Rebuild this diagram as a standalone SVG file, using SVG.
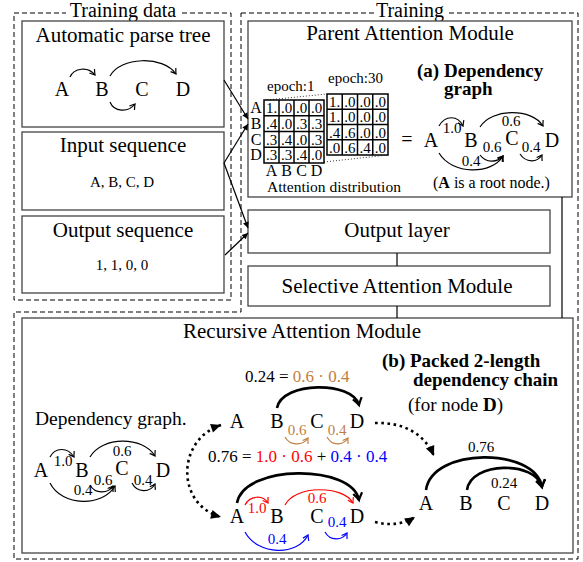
<svg xmlns="http://www.w3.org/2000/svg" width="583" height="562" viewBox="0 0 583 562">
<style>
text{font-family:"Liberation Serif","Times New Roman",serif;fill:#000}
.t21{font-size:21px}
.t20{font-size:20px}
.t16{font-size:16px}
.t15{font-size:15px}
.t17{font-size:17px}
.b19{font-size:19px;font-weight:bold}
.c{text-anchor:middle}
.box{fill:#fff;stroke:#444;stroke-width:1.3}
.dash{fill:none;stroke:#000;stroke-width:1;stroke-dasharray:5 3}
.arc{fill:none;stroke:#000;stroke-width:1.2}
.thick{fill:none;stroke:#000;stroke-width:2.6}
.red{fill:none;stroke:#f00;stroke-width:1.2}
.blue{fill:none;stroke:#00f;stroke-width:1.2}
.brown{fill:none;stroke:#bf8040;stroke-width:1.2}
.dot{fill:none;stroke:#000;stroke-width:2.6;stroke-dasharray:2.6 3.6}
.grid{fill:none;stroke:#000;stroke-width:1.5}
.ln{stroke:#000;stroke-width:1.2;fill:none}
.fr{fill:#f00}.fb{fill:#00f}.fbr{fill:#bf8040}
</style>
<defs>
<marker id="ak" viewBox="-8 -5 10 10" refX="0" refY="0" markerWidth="10" markerHeight="10" markerUnits="userSpaceOnUse" orient="auto" overflow="visible"><path d="M-5,-3.2 Q-1.5,-0.8 0,0 Q-1.5,0.8 -5,3.2" fill="none" stroke="#000" stroke-width="1.2"/></marker>
<marker id="ar" viewBox="-8 -5 10 10" refX="0" refY="0" markerWidth="10" markerHeight="10" markerUnits="userSpaceOnUse" orient="auto" overflow="visible"><path d="M-5,-3.2 Q-1.5,-0.8 0,0 Q-1.5,0.8 -5,3.2" fill="none" stroke="#f00" stroke-width="1.2"/></marker>
<marker id="ab" viewBox="-8 -5 10 10" refX="0" refY="0" markerWidth="10" markerHeight="10" markerUnits="userSpaceOnUse" orient="auto" overflow="visible"><path d="M-5,-3.2 Q-1.5,-0.8 0,0 Q-1.5,0.8 -5,3.2" fill="none" stroke="#00f" stroke-width="1.2"/></marker>
<marker id="abr" viewBox="-8 -5 10 10" refX="0" refY="0" markerWidth="10" markerHeight="10" markerUnits="userSpaceOnUse" orient="auto" overflow="visible"><path d="M-5,-3.2 Q-1.5,-0.8 0,0 Q-1.5,0.8 -5,3.2" fill="none" stroke="#bf8040" stroke-width="1.2"/></marker>
<marker id="at" viewBox="-10 -6 12 12" refX="0" refY="0" markerWidth="12" markerHeight="12" markerUnits="userSpaceOnUse" orient="auto" overflow="visible"><path d="M-7,-4.5 Q-2,-1 0,0 Q-2,1 -7,4.5" fill="none" stroke="#000" stroke-width="2.2"/></marker>
<marker id="af" viewBox="-10 -6 12 12" refX="0" refY="0" markerWidth="12" markerHeight="12" markerUnits="userSpaceOnUse" orient="auto-start-reverse" overflow="visible"><path d="M-10,-4.5 L0,0 L-10,4.5 Z" fill="#000"/></marker>
<marker id="as" viewBox="-8 -5 10 10" refX="0" refY="0" markerWidth="10" markerHeight="10" markerUnits="userSpaceOnUse" orient="auto" overflow="visible"><path d="M-6,-3 L0,0 L-6,3 Z" fill="#000"/></marker>
</defs>
<rect width="583" height="562" fill="#fff"/>

<g id="training-data-frame">
<rect class="dash" x="14" y="13" width="217" height="287"/>
<rect x="66" y="0" width="116" height="19" fill="#fff"/>
<text class="c" style="font-size:20px" x="123" y="17">Training data</text>
</g>

<g id="training-frame">
<path class="dash" d="M241,13 L578,13 L578,559 L14,559 L14,312 L241,312 Z"/>
<rect x="374" y="0" width="72" height="19" fill="#fff"/>
<text class="c" style="font-size:20px" x="410" y="17">Training</text>
</g>

<g id="parse-tree">
<rect class="box" x="22" y="21" width="202" height="106"/>
<text class="t21 c" x="123" y="42">Automatic parse tree</text>
<text class="t20 c" x="62" y="96">A</text>
<text class="t20 c" x="102" y="96">B</text>
<text class="t20 c" x="142" y="96">C</text>
<text class="t20 c" x="183" y="96">D</text>
<path class="arc" marker-end="url(#ak)" d="M70,77 C74,68 88,66 95,75"/>
<path class="arc" marker-end="url(#ak)" d="M110,76 C120,57 163,55 176,74"/>
<path class="arc" marker-end="url(#ak)" d="M110,102 C114,112 128,113 135,104"/>
</g>

<g id="input-sequence">
<rect class="box" x="22" y="132" width="202" height="78"/>
<text class="t21 c" x="123" y="152">Input sequence</text>
<text class="t15 c" x="122" y="187">A, B, C, D</text>
</g>

<g id="output-sequence">
<rect class="box" x="22" y="216" width="202" height="77"/>
<text class="t21 c" x="123" y="237">Output sequence</text>
<text class="t15 c" x="122" y="270">1, 1, 0, 0</text>
</g>

<g id="parent-attention">
<rect class="box" x="248" y="21" width="324" height="176"/>
<text class="t21 c" x="410" y="40">Parent Attention Module</text>
<text class="t15" x="267" y="91">epoch:1</text>
<text class="t15" x="328" y="83">epoch:30</text>
<path d="M267,100 L327,94 M324,162 L388,155" stroke="#000" stroke-width="0.8" stroke-dasharray="1 2" fill="none"/>
<g id="matrix-epoch1">
<rect x="264" y="100" width="60" height="63" fill="#fff"/>
<path class="grid" d="M264,100 h60 v63 h-60 Z M279,100 v63 M294,100 v63 M309,100 v63 M264,115.75 h60 M264,131.5 h60 M264,147.25 h60"/>
<text class="t15 c" x="271.5" y="113">1.</text><text class="t15 c" x="286.5" y="113">.0</text><text class="t15 c" x="301.5" y="113">.0</text><text class="t15 c" x="316.5" y="113">.0</text>
<text class="t15 c" x="271.5" y="128.7">.4</text><text class="t15 c" x="286.5" y="128.7">.0</text><text class="t15 c" x="301.5" y="128.7">.3</text><text class="t15 c" x="316.5" y="128.7">.3</text>
<text class="t15 c" x="271.5" y="144.5">.3</text><text class="t15 c" x="286.5" y="144.5">.4</text><text class="t15 c" x="301.5" y="144.5">.0</text><text class="t15 c" x="316.5" y="144.5">.3</text>
<text class="t15 c" x="271.5" y="160">.3</text><text class="t15 c" x="286.5" y="160">.3</text><text class="t15 c" x="301.5" y="160">.4</text><text class="t15 c" x="316.5" y="160">.0</text>
<text class="t16 c" x="256" y="113">A</text>
<text class="t16 c" x="256" y="128.7">B</text>
<text class="t16 c" x="256" y="144.5">C</text>
<text class="t16 c" x="256" y="160">D</text>
<text class="t16 c" x="271.5" y="176">A</text>
<text class="t16 c" x="286.5" y="176">B</text>
<text class="t16 c" x="301.5" y="176">C</text>
<text class="t16 c" x="316.5" y="176">D</text>
</g>
<g id="matrix-epoch30">
<rect x="327" y="94" width="61" height="61" fill="#fff"/>
<path class="grid" d="M327,94 h61 v61 h-61 Z M342.25,94 v61 M357.5,94 v61 M372.75,94 v61 M327,109.25 h61 M327,124.5 h61 M327,139.75 h61"/>
<text class="t15 c" x="334.6" y="107">1.</text><text class="t15 c" x="349.9" y="107">.0</text><text class="t15 c" x="365.1" y="107">.0</text><text class="t15 c" x="380.4" y="107">.0</text>
<text class="t15 c" x="334.6" y="122.2">1.</text><text class="t15 c" x="349.9" y="122.2">.0</text><text class="t15 c" x="365.1" y="122.2">.0</text><text class="t15 c" x="380.4" y="122.2">.0</text>
<text class="t15 c" x="334.6" y="137.5">.4</text><text class="t15 c" x="349.9" y="137.5">.6</text><text class="t15 c" x="365.1" y="137.5">.0</text><text class="t15 c" x="380.4" y="137.5">.0</text>
<text class="t15 c" x="334.6" y="152.7">.0</text><text class="t15 c" x="349.9" y="152.7">.6</text><text class="t15 c" x="365.1" y="152.7">.4</text><text class="t15 c" x="380.4" y="152.7">.0</text>
</g>
<text style="font-size:15.5px" x="267" y="192">Attention distribution</text>
<text class="t20 c" x="407" y="146">=</text>
<text class="b19" x="417" y="77">(a) Dependency</text>
<text class="b19" x="444" y="95">graph</text>
<g id="graph-a">
<text class="t20 c" x="431" y="147">A</text>
<text class="t20 c" x="471" y="147">B</text>
<text class="t20 c" x="512" y="145">C</text>
<text class="t20 c" x="552" y="147">D</text>
<path class="arc" marker-end="url(#ak)" d="M439,126 C445,115 458,115 463,126"/>
<path class="arc" marker-end="url(#ak)" d="M480,127 C492,108 532,108 543,126"/>
<path class="arc" marker-end="url(#ak)" d="M439,153 C452,175 492,175 503,156"/>
<path class="arc" marker-end="url(#ak)" d="M480,155 C486,163 497,163 503,156"/>
<path class="arc" marker-end="url(#ak)" d="M520,154 C526,163 537,163 542,155"/>
<text class="t15 c" x="452" y="133">1.0</text>
<text class="t15 c" x="511" y="126">0.6</text>
<text class="t15 c" x="471" y="166">0.4</text>
<text class="t15 c" x="492" y="152">0.6</text>
<text class="t15 c" x="531" y="152">0.4</text>
</g>
<text class="t16" x="433" y="188">(<tspan font-weight="bold">A</tspan> is a root node.)</text>
</g>

<g id="output-layer">
<rect class="box" x="248" y="210" width="302" height="43"/>
<text class="t21 c" x="397" y="237">Output layer</text>
</g>

<g id="selective-attention">
<rect class="box" x="248" y="266" width="302" height="40"/>
<text class="t21 c" x="397" y="293">Selective Attention Module</text>
</g>

<g id="recursive-attention">
<rect class="box" x="22" y="318" width="551" height="235"/>
<text class="t21 c" x="302" y="338">Recursive Attention Module</text>
<text class="b19" x="382" y="367">(b) Packed 2-length</text>
<text class="b19" x="413" y="386">dependency chain</text>
<text style="font-size:19px" x="408" y="411">(for node <tspan font-weight="bold">D</tspan>)</text>
<text x="35" y="425" style="font-size:19.5px">Dependency graph.</text>
<g id="graph-left">
<text class="t20 c" x="41" y="477">A</text>
<text class="t20 c" x="82" y="477">B</text>
<text class="t20 c" x="122" y="475">C</text>
<text class="t20 c" x="163" y="477">D</text>
<path class="arc" marker-end="url(#ak)" d="M50,457 C55,447 68,447 74,457"/>
<path class="arc" marker-end="url(#ak)" d="M90,457 C102,436 143,436 155,456"/>
<path class="arc" marker-end="url(#ak)" d="M50,483 C62,507 103,507 115,486"/>
<path class="arc" marker-end="url(#ak)" d="M90,485 C95,494 108,494 113,486"/>
<path class="arc" marker-end="url(#ak)" d="M132,483 C137,493 150,493 155,484"/>
<text class="t15 c" x="63" y="466">1.0</text>
<text class="t15 c" x="122" y="456">0.6</text>
<text class="t15 c" x="83" y="495">0.4</text>
<text class="t15 c" x="103" y="485">0.6</text>
<text class="t15 c" x="143" y="485">0.4</text>
</g>
<g id="chain-top">
<text class="t17" x="245" y="382">0.24 = <tspan class="fbr">0.6 · 0.4</tspan></text>
<text class="t20 c" x="237" y="428">A</text>
<text class="t20 c" x="277" y="428">B</text>
<text class="t20 c" x="317" y="428">C</text>
<text class="t20 c" x="357" y="428">D</text>
<path class="thick" marker-end="url(#at)" d="M277,408 C282,381 353,381 359,405"/>
<path class="brown" marker-end="url(#abr)" d="M285,437 C290,446 303,446 308,438"/>
<path class="brown" marker-end="url(#abr)" d="M327,437 C332,446 343,446 348,438"/>
<text class="t15 c fbr" x="297" y="435">0.6</text>
<text class="t15 c fbr" x="337" y="435">0.4</text>
</g>
<g id="chain-bottom">
<text class="t17" x="208" y="462">0.76 = <tspan class="fr">1.0 · 0.6</tspan> + <tspan class="fb">0.4 · 0.4</tspan></text>
<text class="t20 c" x="237" y="523">A</text>
<text class="t20 c" x="277" y="523">B</text>
<text class="t20 c" x="317" y="523">C</text>
<text class="t20 c" x="357" y="523">D</text>
<path class="thick" marker-end="url(#at)" d="M237,503 C244,464 352,464 359,500"/>
<path class="red" marker-end="url(#ar)" d="M245,505 C250,495 263,495 268,503"/>
<path class="red" marker-end="url(#ar)" d="M285,505 C295,485 343,485 353,503"/>
<path class="blue" marker-end="url(#ab)" d="M245,532 C258,556 298,556 308,535"/>
<path class="blue" marker-end="url(#ab)" d="M325,532 C330,541 342,541 347,533"/>
<text class="t15 c fr" x="257" y="513">1.0</text>
<text class="t15 c fr" x="317" y="503">0.6</text>
<text class="t15 c fb" x="277" y="544">0.4</text>
<text class="t15 c fb" x="337" y="527">0.4</text>
</g>
<g id="chain-packed">
<text class="t20 c" x="426" y="510">A</text>
<text class="t20 c" x="466" y="510">B</text>
<text class="t20 c" x="504" y="510">C</text>
<text class="t20 c" x="542" y="510">D</text>
<path class="thick" marker-end="url(#at)" d="M426,490 C432,447 535,447 542,487"/>
<path class="thick" marker-end="url(#at)" d="M467,490 C471,461 536,461 542,487"/>
<text class="t15 c" x="481" y="452">0.76</text>
<text class="t15 c" x="504" y="488">0.24</text>
</g>
</g>

<g id="connectors">
<path class="ln" marker-end="url(#as)" d="M224,80 L248,119"/>
<path class="ln" marker-end="url(#as)" d="M224,163 L248,124"/>
<path class="ln" marker-end="url(#as)" d="M224,163 L248,228"/>
<path class="ln" marker-end="url(#as)" d="M225,255 L248,233"/>
<path class="ln" d="M397,253 V266 M397,306 V318 M562,197 V318"/>
<path class="dot" marker-start="url(#af)" marker-end="url(#af)" d="M221,425 C176,440 176,505 221,517"/>
<path class="dot" marker-end="url(#af)" d="M375,423 C405,422 425,435 434,456"/>
<path class="dot" marker-end="url(#af)" d="M375,522 C390,526 404,524 415,517"/>
</g>
</svg>
